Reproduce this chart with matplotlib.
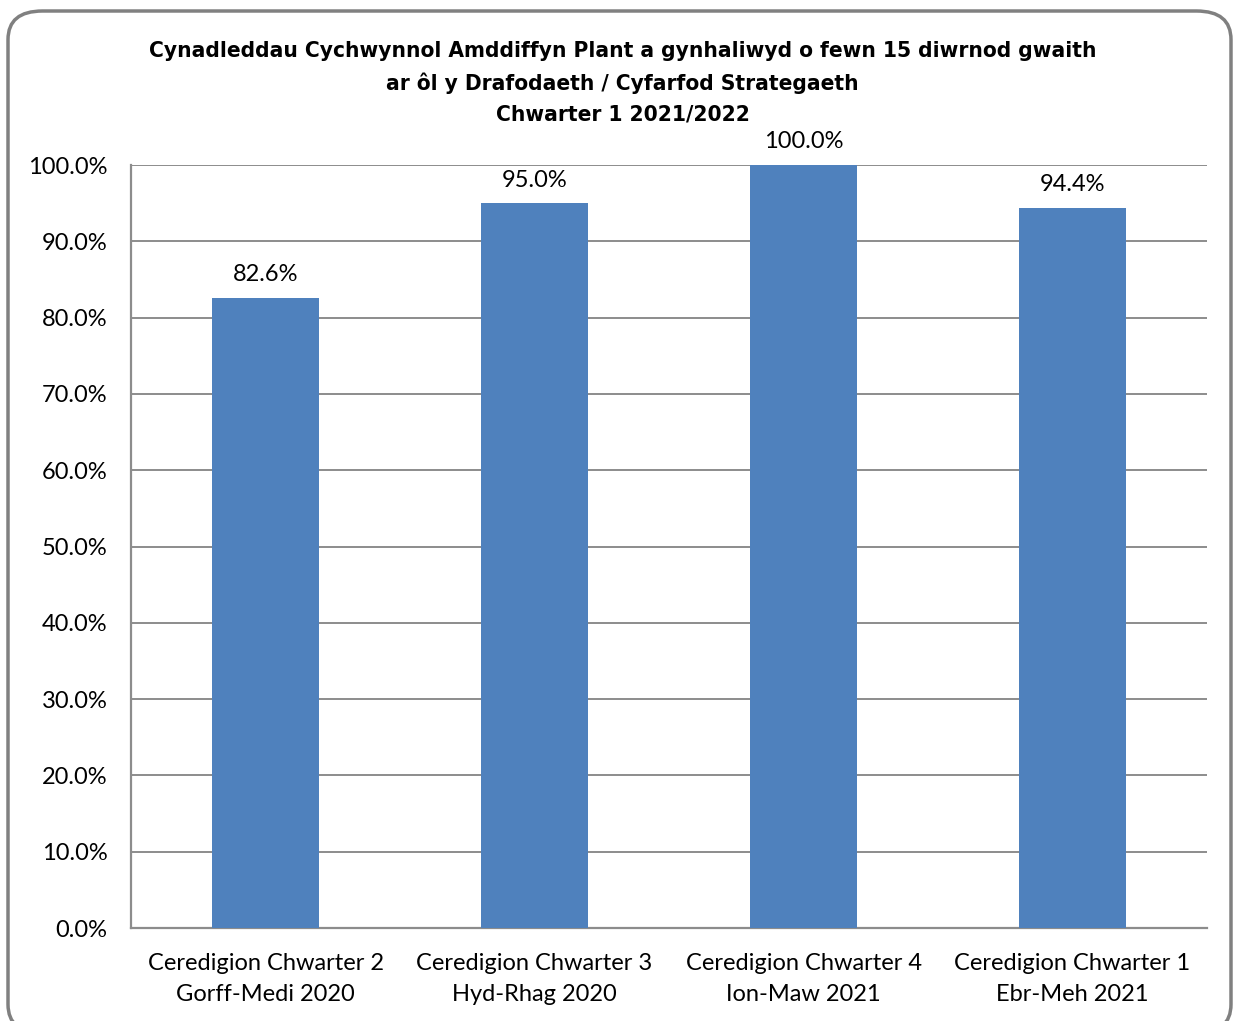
import matplotlib.pyplot as plt
from matplotlib.patches import FancyBboxPatch
from matplotlib.ticker import FuncFormatter

# data
categories = ['Ceredigion Chwarter 2\nGorff-Medi 2020',
              'Ceredigion Chwarter 3\nHyd-Rhag 2020',
              'Ceredigion Chwarter 4\nIon-Maw 2021',
              'Ceredigion Chwarter 1\nEbr-Meh 2021']
values = [82.6, 95.0, 100.0, 94.4]
title_lines = ['Cynadleddau Cychwynnol Amddiffyn Plant a gynhaliwyd o fewn 15 diwrnod gwaith',
               'ar ôl y Drafodaeth / Cyfarfod Strategaeth',
               'Chwarter 1 2021/2022']

label_font = ['Lato', 'DejaVu Sans']
title_font = ['DejaVu Sans']
bar_color = '#4F81BD'
grid_color = '#8C8C8C'

fig = plt.figure(figsize=(12.33, 10.21), dpi=100)

# rounded outer frame
frame = FancyBboxPatch((8 / 1233, -12 / 1021), (1231 - 8) / 1233, (1010 + 12) / 1021,
                       boxstyle='round,pad=0,rounding_size=0.028',
                       transform=fig.transFigure, facecolor='none',
                       edgecolor='#808080', linewidth=2.5, clip_on=False)
fig.patches.append(frame)

ax = fig.add_axes([131 / 1233, 93 / 1021, (1207 - 131) / 1233, (928 - 165) / 1021])

x = range(len(categories))
bars = ax.bar(x, values, width=0.4, color=bar_color, zorder=3)

ax.set_xlim(-0.5, len(categories) - 0.5)
ax.set_ylim(0, 100)
ax.set_yticks(range(0, 101, 10))
ax.yaxis.set_major_formatter(FuncFormatter(lambda v, p: f'{v:.1f}%'))
ax.grid(axis='y', color=grid_color, linewidth=1.4, zorder=0)
ax.set_xticks(list(x))
ax.set_xticklabels(categories, fontsize=17, family=label_font, linespacing=1.6)
for lbl in ax.get_yticklabels():
    lbl.set_fontsize(17)
    lbl.set_family(label_font)
ax.tick_params(axis='both', length=0)
ax.tick_params(axis='y', pad=17)
ax.tick_params(axis='x', pad=18)

for s in ['top', 'right']:
    ax.spines[s].set_visible(False)
for s in ['left', 'bottom']:
    ax.spines[s].set_color(grid_color)
    ax.spines[s].set_linewidth(1.6)

for b, v in zip(bars, values):
    ax.annotate(f'{v:.1f}%', (b.get_x() + b.get_width() / 2, v),
                xytext=(0, 9), textcoords='offset points',
                ha='center', va='bottom', fontsize=17, family=label_font)

fig.text(0.505, 1 - 83 / 1021, '\n'.join(title_lines), ha='center', va='center',
         fontsize=16.2, fontweight='bold', fontstretch='condensed',
         family=title_font, linespacing=1.65)

fig.savefig('out.png', dpi=100)
